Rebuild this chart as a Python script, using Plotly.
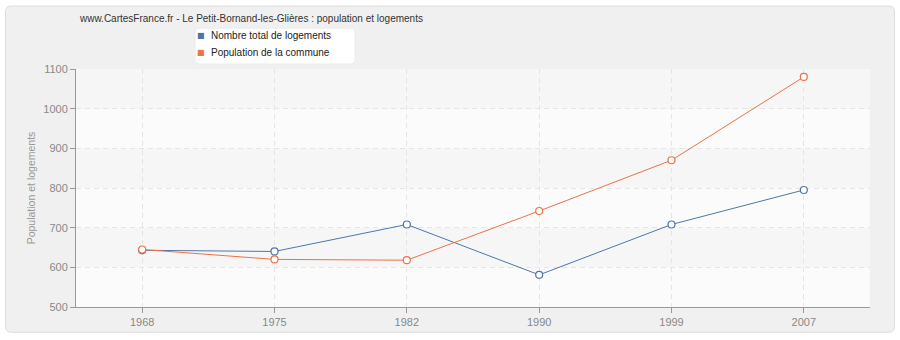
import plotly.graph_objects as go

years = ["1968", "1975", "1982", "1990", "1999", "2007"]
logements = [643, 640, 708, 581, 708, 795]
population = [645, 620, 618, 742, 870, 1080]
y_ticks = [500, 600, 700, 800, 900, 1000, 1100]

title_text = "www.CartesFrance.fr - Le Petit-Bornand-les-Glières : population et logements"
name_log = "Nombre total de logements"
name_pop = "Population de la commune"

blue = "#4f76a9"
orange = "#ec7346"
font = "Liberation Sans"

W, H = 900, 340
L, R, T, B = 76, 30, 69, 31
PW, PH = W - L - R, H - T - B


def px(x):
    return (x - L) / PW


def py(y):
    return (H - B - y) / PH


def rounded_rect(x0, y0, x1, y1, r):
    return (f"M{px(x0 + r)},{py(y0)} L{px(x1 - r)},{py(y0)} Q{px(x1)},{py(y0)} {px(x1)},{py(y0 + r)} "
            f"L{px(x1)},{py(y1 - r)} Q{px(x1)},{py(y1)} {px(x1 - r)},{py(y1)} "
            f"L{px(x0 + r)},{py(y1)} Q{px(x0)},{py(y1)} {px(x0)},{py(y1 - r)} "
            f"L{px(x0)},{py(y0 + r)} Q{px(x0)},{py(y0)} {px(x0 + r)},{py(y0)} Z")


fig = go.Figure()

for vals, name, col in [(logements, name_log, blue), (population, name_pop, orange)]:
    fig.add_trace(go.Scatter(
        x=years, y=vals, mode="lines+markers", name=name, showlegend=False,
        line=dict(color=col, width=1),
        marker=dict(symbol="circle", size=7, color="white", line=dict(color=col, width=1.2)),
    ))

shapes = [dict(type="path", xref="paper", yref="paper", path=rounded_rect(5.5, 5.5, 894.5, 334.5, 6),
               fillcolor="#f0f0f0", line=dict(color="#dedede", width=1), layer="below"),
          dict(type="rect", xref="paper", yref="paper", x0=0, x1=1, y0=0, y1=1,
               fillcolor="#fbfbfb", line=dict(width=0), layer="below"),
          dict(type="path", xref="paper", yref="paper", path=rounded_rect(195, 28, 355, 64, 5),
               fillcolor="white", line=dict(color="#ececec", width=1), layer="above")]
# alternating background bands
for i in range(len(y_ticks) - 1):
    if (len(y_ticks) - 2 - i) % 2 == 0:
        shapes.append(dict(type="rect", xref="paper", yref="y", x0=0, x1=1,
                           y0=y_ticks[i], y1=y_ticks[i + 1], fillcolor="#f6f6f6",
                           line=dict(width=0), layer="below"))

annotations = []
for i, (name, col) in enumerate([(name_log, blue), (name_pop, orange)]):
    yy = 35 + 17 * i
    annotations.append(dict(xref="paper", yref="paper", x=px(201), y=py(yy), text="■",
                            showarrow=False, xanchor="center", yanchor="middle",
                            font=dict(family="DejaVu Sans", size=8, color=col)))
    annotations.append(dict(xref="paper", yref="paper", x=px(209), y=py(yy), text=name,
                            showarrow=False, xanchor="left", yanchor="middle",
                            font=dict(family=font, size=10, color="#222222")))

fig.update_layout(
    width=W, height=H,
    margin=dict(l=L, r=R, t=T, b=B),
    paper_bgcolor="white",
    plot_bgcolor="#fbfbfb",
    showlegend=False,
    font=dict(family=font, size=11, color="#888888"),
    title=dict(text=title_text, x=80/900, xanchor="left", y=1-18/340, yanchor="middle",
               font=dict(family=font, size=10, color="#333333")),
    shapes=shapes,
    annotations=annotations,
    xaxis=dict(type="category", range=[-0.5, 5.5], showline=True, linecolor="#999999",
               linewidth=1, ticks="outside", ticklen=5, tickcolor="#999999",
               showgrid=True, gridcolor="#e5e5e5", griddash="5px,4px", gridwidth=1,
               zeroline=False, tickfont=dict(color="#888888", size=11)),
    yaxis=dict(range=[500, 1100], tickvals=y_ticks, showline=True, linecolor="#999999",
               linewidth=1, ticks="outside", ticklen=5, tickcolor="#999999",
               showgrid=True, gridcolor="#e5e5e5", griddash="5px,4px", gridwidth=1,
               zeroline=False, tickfont=dict(color="#888888", size=11),
               title=dict(text="Population et logements", font=dict(color="#999999", size=10.5),
                          standoff=5)),
)

fig.write_html("out.html")
